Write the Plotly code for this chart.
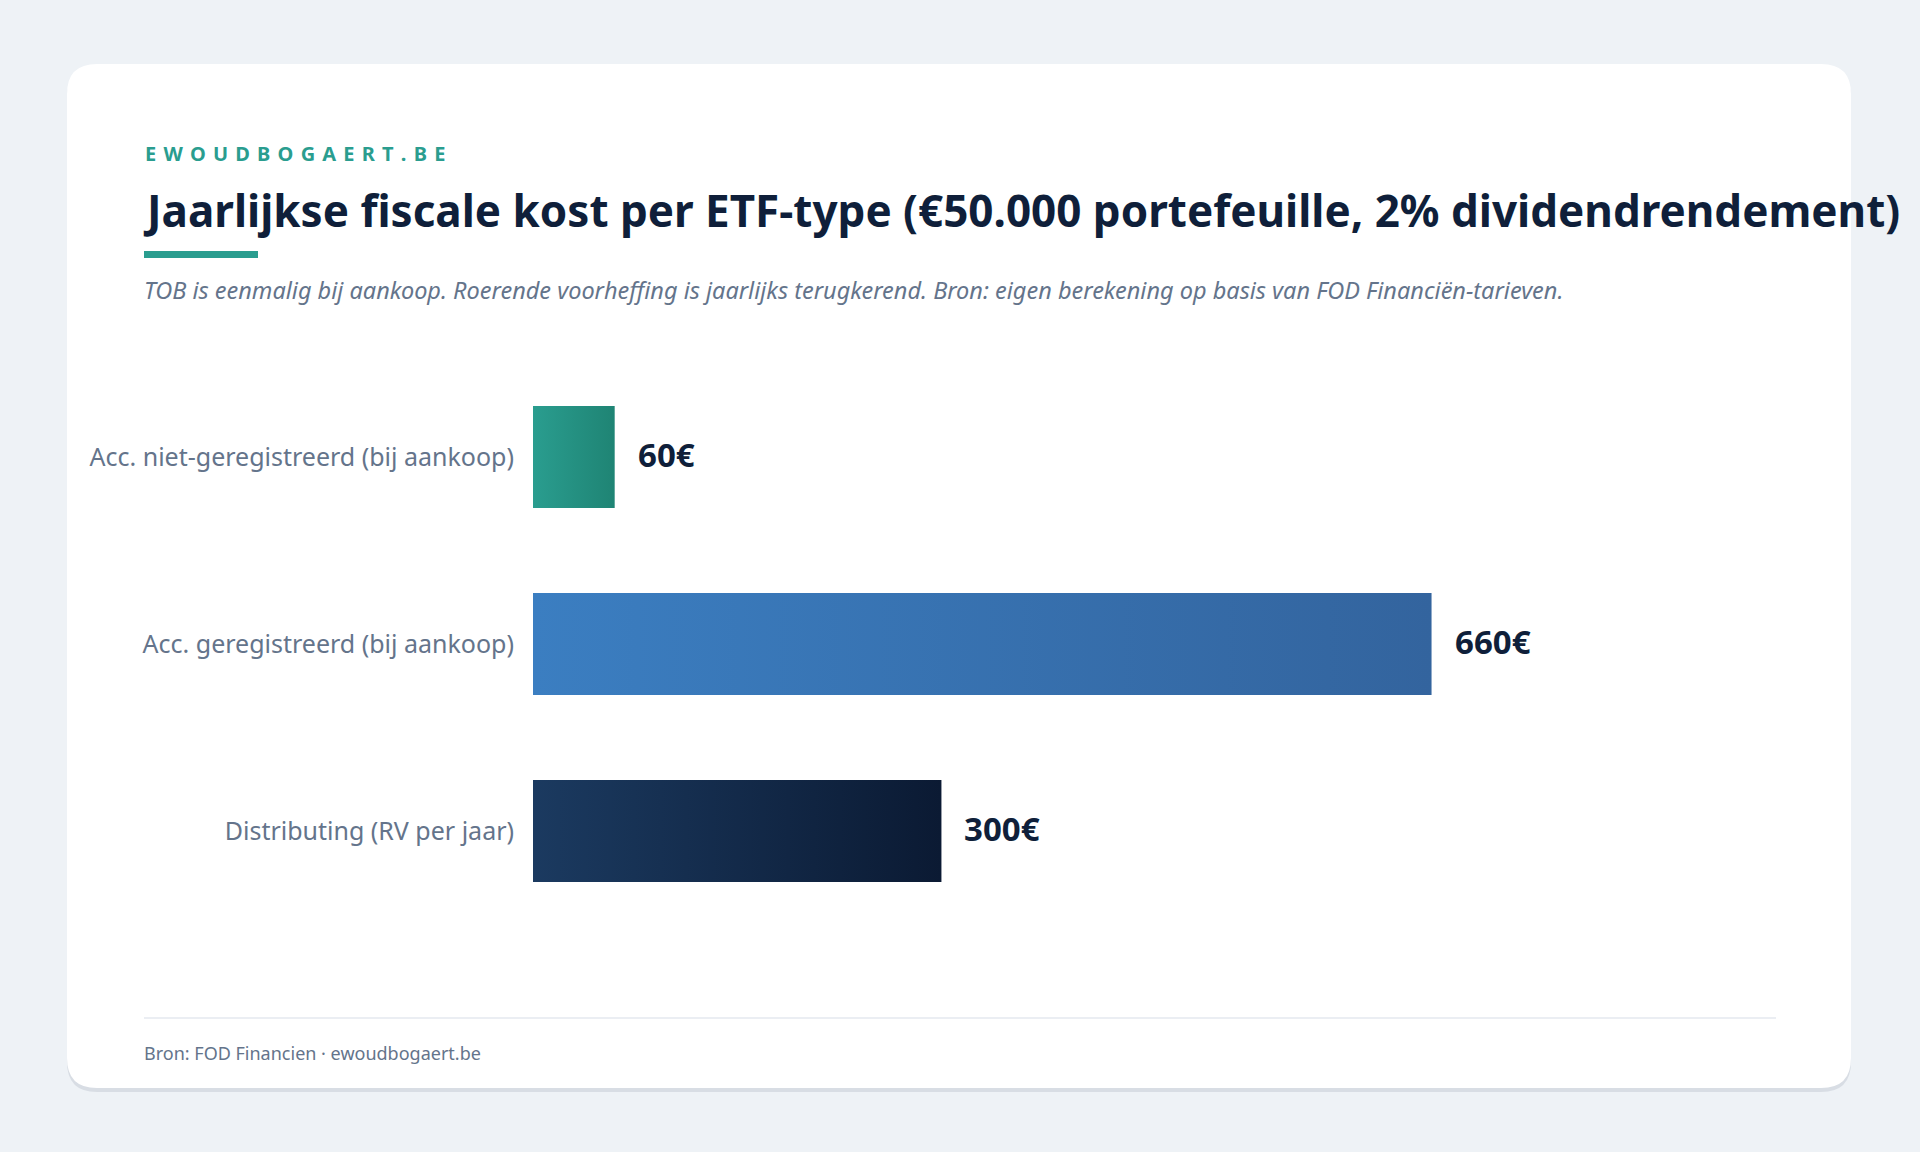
import plotly.graph_objects as go

categories = ["Acc. niet-geregistreerd (bij aankoop)", "Acc. geregistreerd (bij aankoop)", "Distributing (RV per jaar)"]
values = [60, 660, 300]
value_labels = ["60€", "660€", "300€"]
grad_start = ["#2a9d8f", "#3b7ec1", "#1b3a60"]
grad_end = ["#1f8474", "#33649e", "#0b1a33"]

W, H = 1920, 1152
def px(x): return x / W
def py(y): return 1 - y / H

FONT = "Noto Sans"
fig = go.Figure()

half = 0.273
for i, (cat, v) in enumerate(zip(categories, values)):
    fig.add_trace(go.Scatter(
        x=[0, v, v, 0, 0], y=[i - half, i - half, i + half, i + half, i - half],
        mode="none", fill="toself",
        fillgradient=dict(type="horizontal", colorscale=[[0, grad_start[i]], [1, grad_end[i]]]),
        hoveron="fills", name=cat, text=f"{cat}: {value_labels[i]}", hoverinfo="text",
        showlegend=False,
    ))

annotations = []
for i, v in enumerate(values):
    annotations.append(dict(xref="x", yref="y", x=v, y=i, text=value_labels[i], showarrow=False,
                            xanchor="left", yanchor="middle", xshift=21, yshift=3,
                            font=dict(family=FONT, size=33, color="#0f1f3a", weight="bold")))

brand = " \u200a".join(list("EWOUDBOGAERT.BE"))
annotations += [
    dict(xref="paper", yref="paper", x=px(143), y=py(153), text=brand, showarrow=False,
         xanchor="left", yanchor="middle", font=dict(family=FONT, size=20, color="#2a9d8f", weight="bold")),
    dict(xref="paper", yref="paper", x=px(141), y=py(210),
         text="Jaarlijkse fiscale kost per ETF-type (€50.000 portefeuille, 2% dividendrendement)",
         showarrow=False, xanchor="left", yanchor="middle",
         font=dict(family=FONT, size=44, color="#0f1f3a", weight="bold")),
    dict(xref="paper", yref="paper", x=px(142), y=py(290),
         text="<i>TOB is eenmalig bij aankoop. Roerende voorheffing is jaarlijks terugkerend. Bron: eigen berekening op basis van FOD Financiën-tarieven.</i>",
         showarrow=False, xanchor="left", yanchor="middle",
         font=dict(family=FONT, size=23.5, color="#64748b")),
    dict(xref="paper", yref="paper", x=px(142), y=py(1053),
         text="Bron: FOD Financien · ewoudbogaert.be", showarrow=False, xanchor="left", yanchor="middle",
         font=dict(family=FONT, size=18, color="#64748b")),
]

def rrect(x0, y0, x1, y1, r):
    rx, ry = r / W, r / H
    X0, X1 = px(x0), px(x1)
    Y0, Y1 = py(y1), py(y0)  # bottom, top in paper
    return (f"M {X0+rx},{Y1} L {X1-rx},{Y1} Q {X1},{Y1} {X1},{Y1-ry} "
            f"L {X1},{Y0+ry} Q {X1},{Y0} {X1-rx},{Y0} L {X0+rx},{Y0} "
            f"Q {X0},{Y0} {X0},{Y0+ry} L {X0},{Y1-ry} Q {X0},{Y1} {X0+rx},{Y1} Z")

shapes = [
    dict(type="path", xref="paper", yref="paper", path=rrect(67, 68, 1851, 1092, 30),
         fillcolor="#d8dde4", line=dict(width=0), layer="below"),
    dict(type="path", xref="paper", yref="paper", path=rrect(67, 64, 1851, 1088, 30),
         fillcolor="#ffffff", line=dict(width=0), layer="below"),
    dict(type="rect", xref="paper", yref="paper", x0=px(144), x1=px(258), y0=py(258), y1=py(251),
         fillcolor="#2a9d8f", line=dict(width=0)),
    dict(type="line", xref="paper", yref="paper", x0=px(144), x1=px(1776), y0=py(1018), y1=py(1018),
         line=dict(color="#e5e9ef", width=1.5)),
]

fig.update_layout(
    width=W, height=H, margin=dict(l=0, r=0, t=0, b=0),
    paper_bgcolor="#eef2f6", plot_bgcolor="rgba(0,0,0,0)",
    xaxis=dict(domain=[px(533), px(1776)], range=[0, 913], visible=False, fixedrange=True),
    yaxis=dict(domain=[py(924.5), py(363.5)], range=[2.5, -0.5], tickmode="array",
               tickvals=list(range(len(categories))), ticktext=categories,
               showgrid=False, zeroline=False, showline=False, ticks="",
               ticklabelstandoff=18, tickfont=dict(family=FONT, size=25, color="#64748b"),
               fixedrange=True),
    annotations=annotations, shapes=shapes, showlegend=False,
    font=dict(family=FONT),
)

fig.write_html("out.html", config={"displayModeBar": False},
               post_script="document.body.style.margin='0';document.body.style.overflow='hidden';")
